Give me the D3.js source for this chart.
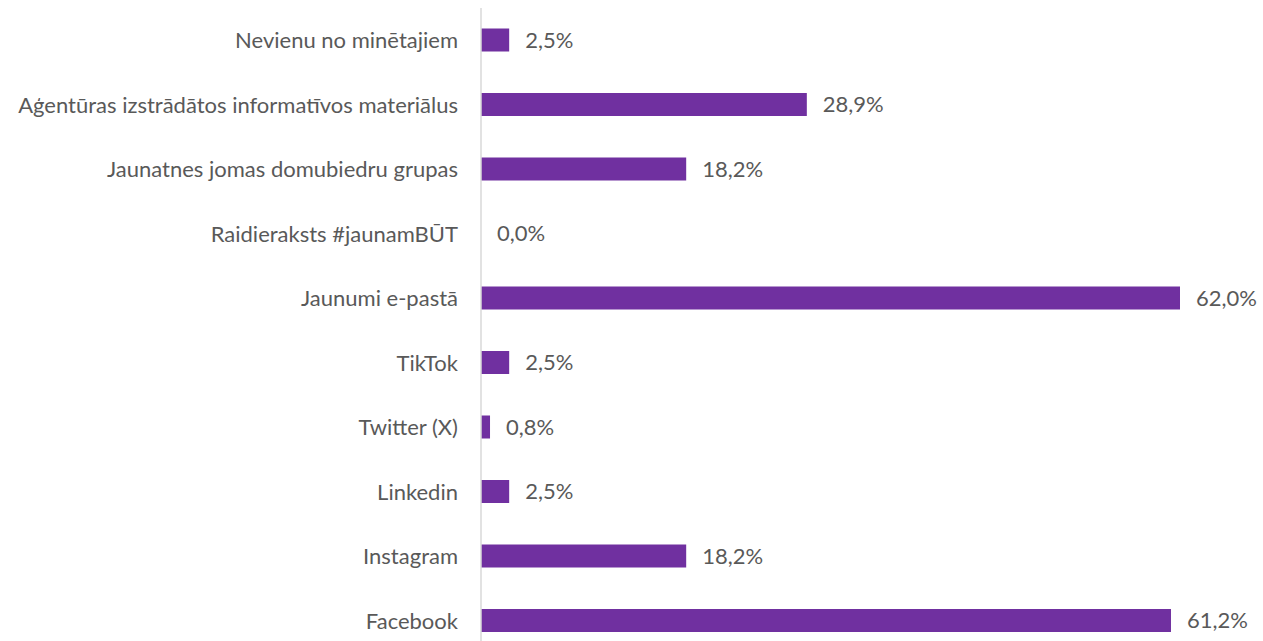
<!DOCTYPE html>
<html>
<head>
<meta charset="utf-8">
<script src="https://cdn.jsdelivr.net/npm/d3@7"></script>
<style>
  body { margin: 0; background: #fff; }
  text { font-family: Lato, sans-serif; fill: #595959; }
</style>
</head>
<body>
<script>
const w = 1263;
const h = 641;

const categories = [
  "Nevienu no minētajiem",
  "Aģentūras izstrādātos informatīvos materiālus",
  "Jaunatnes jomas domubiedru grupas",
  "Raidieraksts #jaunamBŪT",
  "Jaunumi e-pastā",
  "TikTok",
  "Twitter (X)",
  "Linkedin",
  "Instagram",
  "Facebook"
];
const values = [2.5, 28.9, 18.2, 0.0, 62.0, 2.5, 0.8, 2.5, 18.2, 61.2];

const svg = d3.select("body").append("svg")
  .attr("width", w)
  .attr("height", h);

const xScale = d3.scaleLinear().domain([0, 62]).range([481, 1180]);
const yScale = d3.scalePoint().domain(categories).range([40, 620.5]);
const barH = 23;

// bars
svg.selectAll("rect.bar")
  .data(values)
  .enter()
  .append("rect")
  .attr("class", "bar")
  .attr("x", xScale(0))
  .attr("y", (d, i) => yScale(categories[i]) - barH / 2)
  .attr("width", d => xScale(d) - xScale(0))
  .attr("height", barH)
  .style("fill", "#7030A0");

// value labels
svg.selectAll("text.val")
  .data(values)
  .enter()
  .append("text")
  .attr("class", "val")
  .attr("x", d => xScale(d) + 16)
  .attr("y", (d, i) => yScale(categories[i]))
  .attr("dy", "0.35em")
  .style("font-size", "22px")
  .text(d => d.toFixed(1).replace(".", ",") + "%");

// category axis
const yAxis = d3.axisLeft(yScale).tickSize(0).tickPadding(23);
svg.append("g")
  .attr("transform", "translate(" + xScale(0) + ",0)")
  .call(yAxis)
  .call(g => g.select(".domain").remove())
  .selectAll("text")
  .attr("dy", "0.35em")
  .style("font-size", "22px")
  .style("font-family", "Lato, sans-serif")
  .attr("fill", "#595959");

svg.append("line")
  .attr("x1", xScale(0)).attr("x2", xScale(0))
  .attr("y1", 8).attr("y2", h)
  .style("stroke", "#d9d9d9")
  .style("stroke-width", 1.5);
</script>
</body>
</html>
